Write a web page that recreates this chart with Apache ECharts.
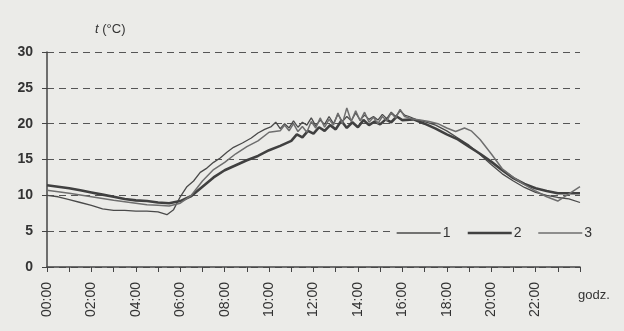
<!DOCTYPE html>
<html>
<head>
<meta charset="utf-8">
<script src="https://cdn.jsdelivr.net/npm/echarts@6/dist/echarts.min.js"></script>
<style>
  html, body { margin: 0; padding: 0; background: #ebebe8; }
  #chart { width: 624px; height: 331px; }
</style>
</head>
<body>
<div id="chart"></div>
<script>
// hours of day (x) and temperature in °C (y)
const hours1 = [0, 0.5, 1, 1.5, 2, 2.5, 3, 3.5, 4, 4.5, 5, 5.4, 5.7, 6, 6.3, 6.6, 6.9, 7.2, 7.5, 7.8, 8.1, 8.4, 8.8, 9.2, 9.5, 9.8, 10.1,
  10.3, 10.5, 10.7, 10.9, 11.1, 11.3, 11.5, 11.7, 11.9, 12.1, 12.3, 12.5, 12.7, 12.9, 13.1, 13.3, 13.5, 13.7, 13.9, 14.1, 14.3, 14.5,
  14.7, 14.9, 15.1, 15.3, 15.5, 15.7, 15.9, 16.1, 16.3, 16.6, 17, 17.5, 18, 18.5, 19, 19.5, 20, 20.5, 21, 21.5, 22, 22.5, 23, 23.5, 24];
const temps1 = [10.0, 9.8, 9.4, 9.0, 8.6, 8.1, 7.9, 7.9, 7.8, 7.8, 7.7, 7.3, 8.0, 9.8, 11.2, 12.0, 13.2, 13.8, 14.6, 15.2, 16.0, 16.7, 17.3, 18.0, 18.7, 19.2, 19.6,
  20.2, 19.3, 20.0, 19.4, 20.4, 19.5, 20.2, 19.8, 20.8, 19.7, 20.5, 19.9, 21.0, 20.0, 21.3, 20.3, 21.0, 20.4, 21.5, 20.5, 21.2, 20.6,
  21.0, 20.5, 21.3, 20.7, 21.6, 21.0, 21.8, 21.2, 21.0, 20.6, 20.3, 19.8, 19.0, 18.0, 17.0, 15.7, 14.3, 13.0, 12.0, 11.1, 10.4, 10.0, 9.7, 9.5, 9.0];

const hours2 = [0, 0.5, 1, 1.5, 2, 2.5, 3, 3.5, 4, 4.5, 5, 5.5, 6, 6.5, 7, 7.5, 8, 8.5, 9, 9.5, 10, 10.5, 11,
  11.25, 11.5, 11.75, 12, 12.25, 12.5, 12.75, 13, 13.25, 13.5, 13.75, 14, 14.25, 14.5, 14.75, 15, 15.25, 15.5, 15.75, 16,
  16.5, 17, 17.5, 18, 18.5, 19, 19.5, 20, 20.5, 21, 21.5, 22, 22.5, 23, 23.5, 24];
const temps2 = [11.4, 11.2, 11.0, 10.7, 10.4, 10.1, 9.8, 9.5, 9.3, 9.2, 9.0, 8.9, 9.2, 9.9, 11.2, 12.5, 13.5, 14.2, 14.9, 15.5, 16.3, 16.9, 17.6,
  18.5, 18.1, 19.0, 18.6, 19.5, 19.0, 19.8, 19.2, 20.4, 19.4, 20.2, 19.5, 20.5, 19.8, 20.3, 19.9, 20.6, 20.2, 21.0, 20.5,
  20.6, 20.0, 19.3, 18.5, 17.8, 16.8, 15.8, 14.7, 13.5, 12.4, 11.6, 11.0, 10.6, 10.3, 10.3, 10.3];

const hours3 = [0, 1, 2, 3, 4, 4.5, 5, 5.5, 6, 6.5, 7, 7.5, 8, 8.5, 9, 9.5, 10, 10.5,
  10.7, 10.9, 11.1, 11.3, 11.5, 11.7, 11.9, 12.1, 12.3, 12.5, 12.7, 12.9, 13.1, 13.3, 13.5, 13.7, 13.9, 14.1, 14.3, 14.5,
  14.7, 14.9, 15.1, 15.3, 15.5, 15.7, 15.9, 16.1, 16.4, 16.8, 17.2, 17.6, 18, 18.4, 18.8, 19.1, 19.5, 20, 20.5, 21, 21.5, 22, 22.5, 23, 23.5, 24];
const temps3 = [10.7, 10.3, 9.8, 9.3, 8.9, 8.7, 8.6, 8.5, 8.9, 10.0, 12.0, 13.6, 14.6, 15.8, 16.8, 17.6, 18.8, 19.0,
  19.8, 19.0, 20.0, 18.9, 19.6, 18.8, 20.3, 19.4, 20.8, 19.5, 20.6, 19.8, 21.5, 20.0, 22.2, 20.3, 21.8, 20.4, 21.6, 20.2,
  20.9, 20.0, 21.0, 20.4, 21.5, 20.8, 22.0, 21.0, 20.7, 20.5, 20.3, 20.0, 19.4, 18.9, 19.4, 19.0, 17.8, 15.8, 13.7, 12.5, 11.5, 10.6, 9.8, 9.2, 10.2, 11.2];

const seriesNames = ["1", "2", "3"];
const yTicks = [0, 5, 10, 15, 20, 25, 30];

const pair = (xs, ys) => xs.map((x, i) => [x, ys[i]]);

const textColor = "#333";
const axisColor = "#444";

const chart = echarts.init(document.getElementById("chart"));

chart.setOption({
    backgroundColor: "#ebebe8",
    animation: false,
    textStyle: { fontFamily: "Liberation Sans, Arial, sans-serif" },
    grid: { left: 47, right: 44, top: 52, bottom: 64 },
    legend: {
        data: seriesNames,
        left: 392,
        top: 224,
        itemWidth: 44,
        itemHeight: 14,
        itemGap: 16,
        padding: [2, 4],
        backgroundColor: "#ebebe8",
        itemStyle: { opacity: 0 },
        lineStyle: { width: "inherit" },
        textStyle: { color: textColor, fontSize: 14, padding: [0, 0, 0, -3] }
    },
    xAxis: {
        type: "value",
        min: 0,
        max: 24,
        interval: 1,
        name: "godz.",
        nameLocation: "end",
        nameGap: -2,
        nameTextStyle: { color: textColor, fontSize: 13, verticalAlign: "top", padding: [22, 0, 0, 0] },
        axisLine: { lineStyle: { color: axisColor, width: 1.5 } },
        axisTick: { length: 5, lineStyle: { color: axisColor } },
        splitLine: { show: false },
        axisLabel: {
            rotate: 90,
            margin: 15,
            color: textColor,
            fontSize: 14,
            formatter: v => (v % 2 === 0 && v < 24 ? String(v).padStart(2, "0") + ":00" : "")
        }
    },
    yAxis: {
        type: "value",
        min: yTicks[0],
        max: yTicks[yTicks.length - 1],
        interval: 5,
        name: "{i|t} (°C)",
        nameLocation: "end",
        nameGap: 16,
        nameTextStyle: {
            color: textColor,
            fontSize: 13,
            align: "left",
            padding: [0, 0, 0, 48],
            rich: { i: { fontStyle: "italic", fontSize: 13, color: textColor } }
        },
        axisLine: { show: true, lineStyle: { color: axisColor, width: 1.5 } },
        axisTick: { show: true, length: 5, lineStyle: { color: axisColor } },
        axisLabel: { color: textColor, fontSize: 14, fontWeight: "bold", margin: 14 },
        splitLine: { lineStyle: { color: "#555", type: [7, 5], width: 1.2 } }
    },
    series: [
        {
            name: seriesNames[0],
            type: "line",
            data: pair(hours1, temps1),
            symbol: "none",
            lineStyle: { color: "#4a4a4a", width: 1.3 },
            itemStyle: { color: "#4a4a4a" }
        },
        {
            name: seriesNames[1],
            type: "line",
            data: pair(hours2, temps2),
            symbol: "none",
            lineStyle: { color: "#404040", width: 2.6 },
            itemStyle: { color: "#404040" }
        },
        {
            name: seriesNames[2],
            type: "line",
            data: pair(hours3, temps3),
            symbol: "none",
            lineStyle: { color: "#6e6e6e", width: 1.5 },
            itemStyle: { color: "#6e6e6e" }
        }
    ]
});
</script>
</body>
</html>
